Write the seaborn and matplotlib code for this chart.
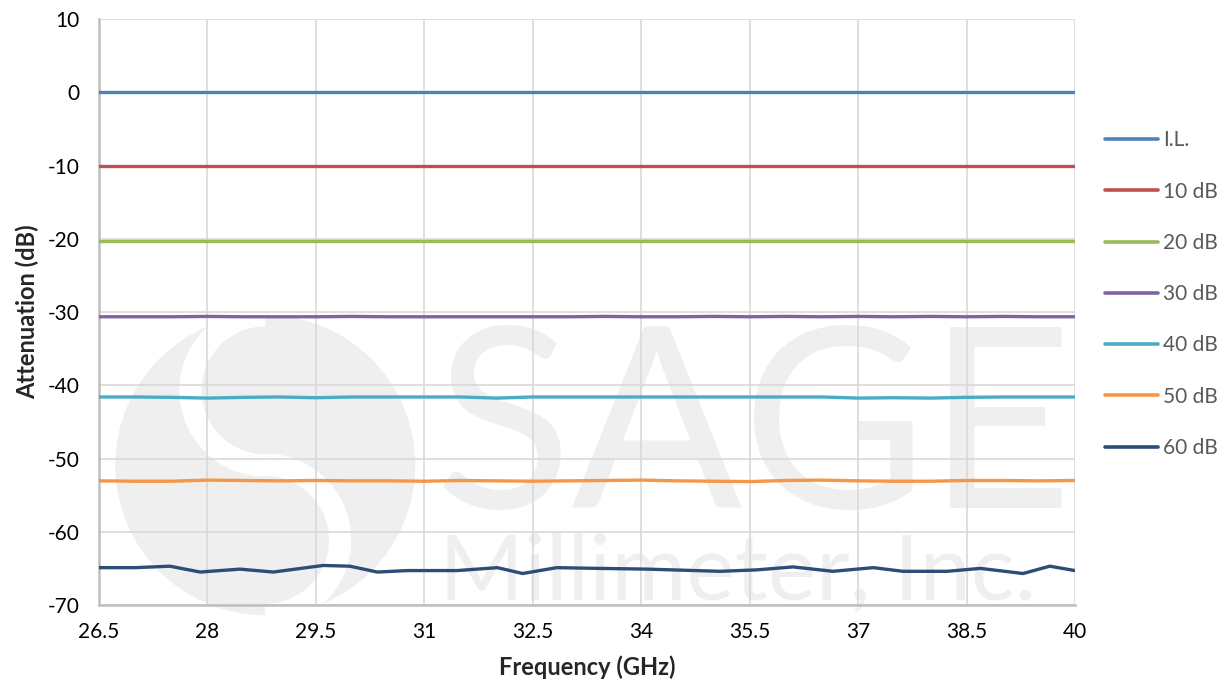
import matplotlib
matplotlib.use("Agg")
import matplotlib.pyplot as plt
from matplotlib.ticker import FuncFormatter
from matplotlib.patches import Ellipse, Arc
import numpy as np
import pandas as pd
import seaborn as sns

# Data
freq = [26.5, 27.0, 27.5, 28.0, 28.5, 29.0, 29.5, 30.0, 30.5, 31.0, 31.5, 32.0, 32.5, 33.0,
        33.5, 34.0, 34.5, 35.0, 35.5, 36.0, 36.5, 37.0, 37.5, 38.0, 38.5, 39.0, 39.5, 40.0]
il = [0.0] * 28
att_10 = [-10.05] * 28
att_20 = [-20.3] * 28
att_30 = [-30.65, -30.65, -30.65, -30.6, -30.65, -30.65, -30.65, -30.6, -30.65, -30.65,
          -30.65, -30.65, -30.65, -30.65, -30.6, -30.65, -30.65, -30.6, -30.65, -30.6,
          -30.65, -30.6, -30.65, -30.6, -30.65, -30.6, -30.65, -30.65]
att_40 = [-41.6, -41.6, -41.65, -41.75, -41.65, -41.6, -41.7, -41.6, -41.6, -41.6,
          -41.6, -41.75, -41.6, -41.6, -41.6, -41.6, -41.6, -41.6, -41.6, -41.6,
          -41.6, -41.75, -41.7, -41.75, -41.65, -41.6, -41.6, -41.6]
att_50 = [-53.05, -53.1, -53.1, -52.95, -53.0, -53.05, -53.0, -53.05, -53.05, -53.1,
          -53.0, -53.05, -53.1, -53.05, -53.0, -52.95, -53.05, -53.1, -53.15, -53.0,
          -52.95, -53.05, -53.1, -53.1, -53.0, -53.0, -53.05, -53.0]
freq_60 = [26.5, 27.0, 27.48, 27.9, 28.45, 28.91, 29.6, 29.97, 30.35, 30.76, 31.45, 32.01,
           32.36, 32.83, 33.4, 34.08, 35.09, 35.6, 36.1, 36.65, 37.21, 37.62, 38.23, 38.69,
           39.28, 39.65, 40.0]
att_60 = [-64.9, -64.9, -64.7, -65.5, -65.1, -65.5, -64.6, -64.7, -65.5, -65.3, -65.3, -64.9,
          -65.7, -64.9, -65.0, -65.1, -65.4, -65.2, -64.8, -65.4, -64.9, -65.4, -65.4, -65.0,
          -65.7, -64.7, -65.3]

series = ["I.L.", "10 dB", "20 dB", "30 dB", "40 dB", "50 dB", "60 dB"]
colors = ["#4F81BD", "#C0504D", "#9BBB59", "#8064A2", "#4BACC6", "#F79646", "#2C4D75"]
x_ticks = [26.5, 28, 29.5, 31, 32.5, 34, 35.5, 37, 38.5, 40]

frames = []
for name, vals in zip(series[:-1], [il, att_10, att_20, att_30, att_40, att_50]):
    frames.append(pd.DataFrame({"freq": freq, "att": vals, "series": name}))
frames.append(pd.DataFrame({"freq": freq_60, "att": att_60, "series": "60 dB"}))
df = pd.concat(frames, ignore_index=True)

sns.set_style("white")
plt.rcParams["font.family"] = ["Lato", "DejaVu Sans"]
plt.rcParams["axes.unicode_minus"] = False

fig = plt.figure(figsize=(12.25, 6.89), dpi=100)
ax = fig.add_axes([0.0808, 0.1219, 0.7968, 0.8505])

# faint watermark
wm = "#efefef"
ax.add_patch(Ellipse((28.8, -50.9), 4.15, 41.0, color=wm, zorder=0.3, clip_on=False, lw=0))
ax.add_patch(Arc((28.8, -40.7), 2.07, 20.5, theta1=90, theta2=270, color="white", lw=16,
                 zorder=0.4, clip_on=False))
ax.add_patch(Arc((28.8, -61.1), 2.07, 20.5, theta1=-90, theta2=90, color="white", lw=16,
                 zorder=0.4, clip_on=False))
ax.text(31.15, -56.8, "SAGE", fontsize=182, color=wm, zorder=0.5, va="baseline",
        ha="left", clip_on=False)
ax.text(31.2, -69.2, "Millimeter, Inc.", fontsize=66, color=wm, zorder=0.5,
        va="baseline", ha="left", clip_on=False)

sns.lineplot(data=df, x="freq", y="att", hue="series", hue_order=series,
             palette=colors, linewidth=2.4, ax=ax, legend=False, zorder=3)

ax.set_xlim(26.5, 40)
ax.set_ylim(-70, 10)
ax.set_xticks(x_ticks)
ax.set_xticks(np.arange(26.5, 40.01, 0.3), minor=True)
ax.set_yticks(np.arange(-70, 11, 10))
ax.set_yticks(np.arange(-70, 11, 2), minor=True)
ax.xaxis.set_major_formatter(FuncFormatter(lambda v, p: f"{v:g}"))
ax.yaxis.set_major_formatter(FuncFormatter(lambda v, p: f"{v:g}"))
ax.grid(True, which="major", color="#d9d9d9", linewidth=1.2, zorder=1)
ax.tick_params(which="major", length=0, labelsize=15, pad=14, colors="black")
ax.tick_params(axis="x", which="major", pad=12)
ax.tick_params(which="minor", direction="in", length=5, width=1.2, color="#bfbfbf")

for s in ["top", "right"]:
    ax.spines[s].set_visible(False)
for s in ["left", "bottom"]:
    ax.spines[s].set_color("#bfbfbf")
    ax.spines[s].set_linewidth(1.8)

ax.set_xlabel("Frequency (GHz)", fontsize=17, fontweight="bold", labelpad=10)
ax.set_ylabel("Attenuation (dB)", fontsize=17, fontweight="bold", labelpad=6)

handles = [plt.Line2D([], [], color=c, linewidth=2.6) for c in colors]
leg = fig.legend(handles, series, loc="center left", bbox_to_anchor=(0.8865, 0.573),
                 frameon=False, fontsize=15, labelspacing=1.5, handlelength=2.55,
                 handletextpad=0.25, labelcolor="#595959")

fig.savefig("out.png", dpi=100)
